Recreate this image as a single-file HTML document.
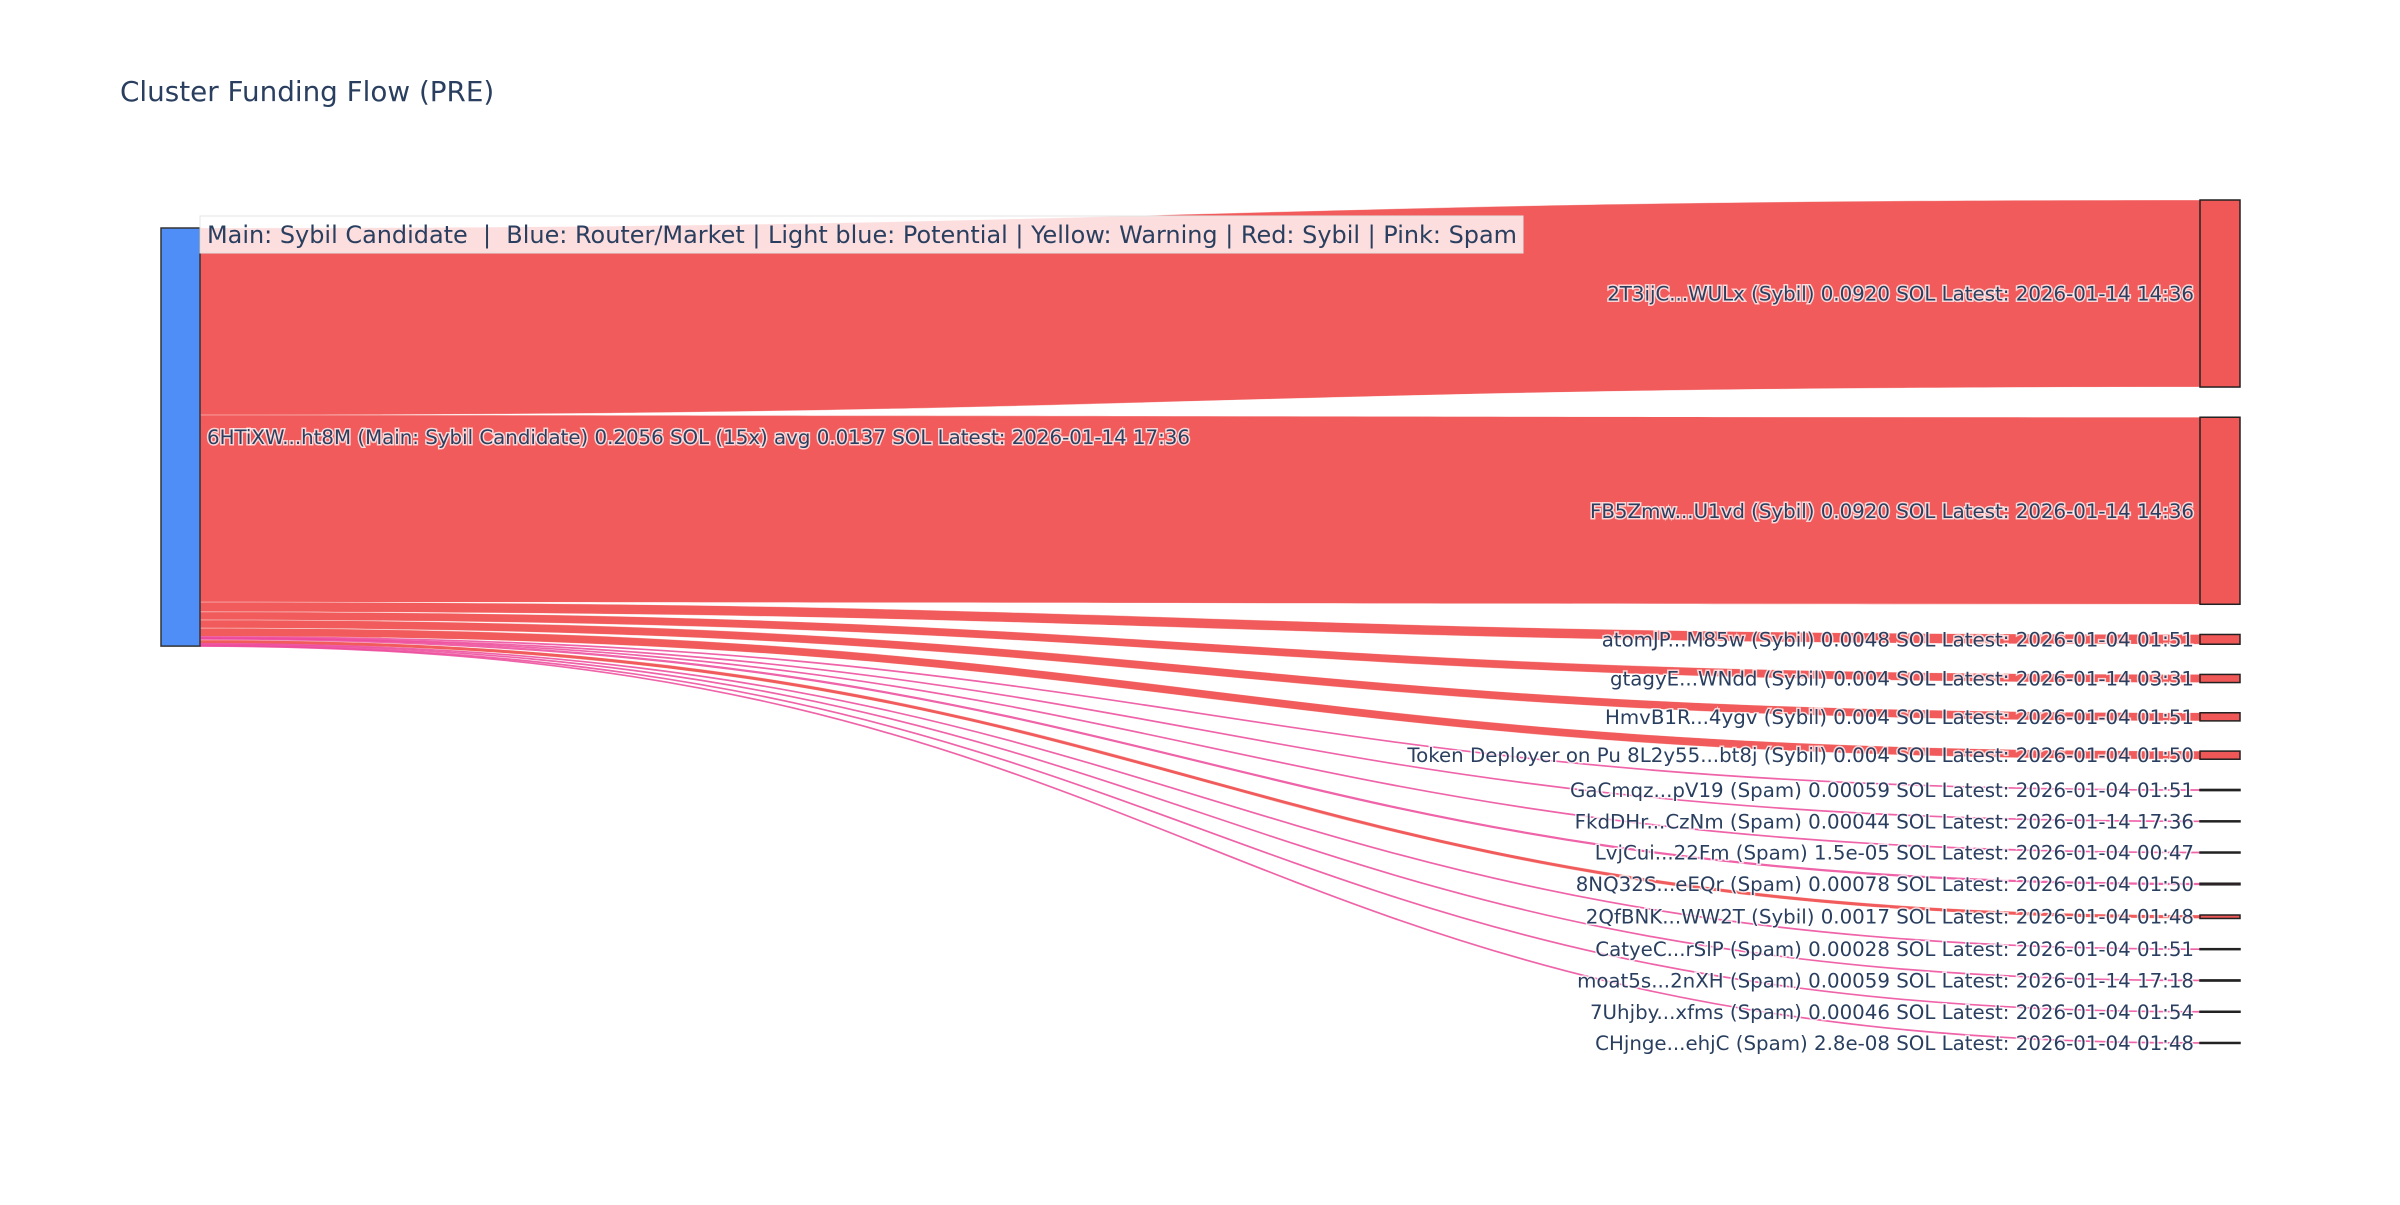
<!DOCTYPE html>
<html><head><meta charset="utf-8"><style>
html,body{margin:0;padding:0;background:#fff;}
svg text{font-family:"DejaVu Sans","Liberation Sans",sans-serif;}
.lbl{fill:#2a3f5f;font-size:19.8px;paint-order:stroke;stroke:#fff;stroke-width:3px;stroke-opacity:0.75;}
</style></head><body>
<svg id="chart" width="2400" height="1200" viewBox="0 0 2400 1200" xmlns="http://www.w3.org/2000/svg">
<rect width="2400" height="1200" fill="#fff"/>
<text x="120" y="101" font-size="27.8" fill="#2a3f5f">Cluster Funding Flow (PRE)</text>
<g id="links"></g>
<g id="nodes"></g>
<g id="labels"></g>
<rect x="200" y="216" width="1323" height="37" fill="rgba(255,255,255,0.8)" stroke="#e4e4e4" stroke-width="1"/>
<text x="207" y="243" font-size="24" fill="#2a3f5f" textLength="1310" lengthAdjust="spacingAndGlyphs">Main: Sybil Candidate &#160;|&#160; Blue: Router/Market | Light blue: Potential | Yellow: Warning | Red: Sybil | Pink: Spam</text>
</svg>
<script>
const targetNames = ["2T3ijC...WULx (Sybil) 0.0920 SOL Latest: 2026-01-14 14:36","FB5Zmw...U1vd (Sybil) 0.0920 SOL Latest: 2026-01-14 14:36","atomJP...M85w (Sybil) 0.0048 SOL Latest: 2026-01-04 01:51","gtagyE...WNdd (Sybil) 0.004 SOL Latest: 2026-01-14 03:31","HmvB1R...4ygv (Sybil) 0.004 SOL Latest: 2026-01-04 01:51","Token Deployer on Pu 8L2y55...bt8j (Sybil) 0.004 SOL Latest: 2026-01-04 01:50","GaCmqz...pV19 (Spam) 0.00059 SOL Latest: 2026-01-04 01:51","FkdDHr...CzNm (Spam) 0.00044 SOL Latest: 2026-01-14 17:36","LvjCui...22Fm (Spam) 1.5e-05 SOL Latest: 2026-01-04 00:47","8NQ32S...eEQr (Spam) 0.00078 SOL Latest: 2026-01-04 01:50","2QfBNK...WW2T (Sybil) 0.0017 SOL Latest: 2026-01-04 01:48","CatyeC...rSlP (Spam) 0.00028 SOL Latest: 2026-01-04 01:51","moat5s...2nXH (Spam) 0.00059 SOL Latest: 2026-01-14 17:18","7Uhjby...xfms (Spam) 0.00046 SOL Latest: 2026-01-04 01:54","CHjnge...ehjC (Spam) 2.8e-08 SOL Latest: 2026-01-04 01:48"];
const targetValues = [0.092,0.092,0.0048,0.004,0.004,0.004,0.00059,0.00044,0.000015,0.00078,0.0017,0.00028,0.00059,0.00046,0.000000028];
const targetKinds = ["sybil","sybil","sybil","sybil","sybil","sybil","spam","spam","spam","spam","sybil","spam","spam","spam","spam"];
const sourceLabel = "6HTiXW...ht8M (Main: Sybil Candidate) 0.2056 SOL (15x) avg 0.0137 SOL Latest: 2026-01-14 17:36";

const NS="http://www.w3.org/2000/svg";
const scale=2033, pad=30.2, x0=200, x1=2200, nodeW=40, rightTop=200, leftTop=228;
const linkColor={sybil:"rgba(239,68,68,0.88)",spam:"rgba(236,72,153,0.85)"};
const nodeColor={sybil:"#f05757",spam:"#ec4899"};
const gL=document.getElementById('links'),gN=document.getElementById('nodes'),gT=document.getElementById('labels');
function mk(t,a){const e=document.createElementNS(NS,t);for(const k in a)e.setAttribute(k,a[k]);return e;}
const total=targetValues.reduce((a,b)=>a+b,0);
const srcH=total*scale;
const sn=mk('rect',{x:x0-nodeW+1,y:leftTop,width:nodeW-1,height:srcH,fill:'#4f8ef7',stroke:'#333','stroke-width':1.5});


gN.appendChild(sn);
let sy=leftTop, ty=rightTop;
targetValues.forEach((v,i)=>{
  const h=v*scale, nh=Math.max(h,1);
  const s0=sy, s1=sy+h, t0=ty, t1=ty+h, xm=(x0+x1)/2;
  let d;
  const lw=Math.max(h,1.2);
  if(h<2){
    const a=(s0+s1)/2,b=t0+nh/2;
    d=`M${x0},${a} C${xm},${a} ${xm},${b} ${x1},${b}`;
    const p=mk('path',{d:d,fill:'none',stroke:linkColor[targetKinds[i]],'stroke-width':lw*1.4});
    
    
    gL.appendChild(p);
  } else {
    d=`M${x0},${s0} C${xm},${s0} ${xm},${t0} ${x1},${t0} L${x1},${t1} C${xm},${t1} ${xm},${s1} ${x0},${s1} Z`;
    const p=mk('path',{d:d,fill:linkColor[targetKinds[i]],stroke:'rgba(255,255,255,0.5)','stroke-width':0.6});
    
    
    gL.appendChild(p);
  }
  const n=mk('rect',{x:x1,y:ty,width:nodeW,height:nh,fill:nodeColor[targetKinds[i]],stroke:'#222','stroke-width':1.5});
  
  
  gN.appendChild(n);
  const t=mk('text',{x:x1-6,y:ty+nh/2+7,'text-anchor':'end',class:'lbl'});
  t.textContent=targetNames[i];
  
  
  gT.appendChild(t);
  sy+=h; ty+=nh+pad;
});
const sl=mk('text',{x:207,y:leftTop+srcH/2+7,class:'lbl'});
sl.textContent=sourceLabel;


gT.appendChild(sl);
</script>
</body></html>
